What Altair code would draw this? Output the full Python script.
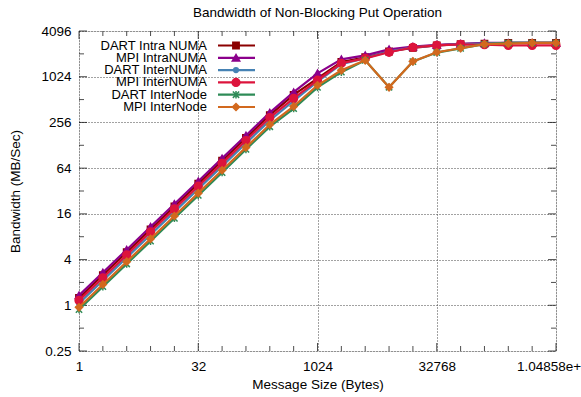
import altair as alt
import pandas as pd

# ---- data ----
exponents = list(range(0, 21))
msg_sizes = [2 ** e for e in exponents]

series_names = ["DART Intra NUMA", "MPI IntraNUMA", "DART InterNUMA",
                "MPI InterNUMA", "DART InterNode", "MPI InterNode"]

dart_intra = [1.25, 2.5, 5, 10, 20, 40, 80, 160, 320, 590, 975, 1600, 1850,
              2200, 2450, 2650, 2750, 2800, 2850, 2850, 2850]
mpi_intra = [1.35, 2.7, 5.4, 10.8, 21.6, 43, 86, 172, 345, 640, 1135, 1735,
             1960, 2350, 2550, 2700, 2780, 2850, 2850, 2850, 2850]
dart_inter = [1.06, 2.12, 4.24, 8.5, 17, 34, 68, 136, 272, 490, 880, 1500,
              1800, 2200, 2500, 2650, 2750, 2800, 2850, 2850, 2850]
mpi_inter = [1.16, 2.3, 4.6, 9.3, 18.6, 37, 74, 148, 297, 530, 920, 1540,
             1785, 2150, 2500, 2650, 2730, 2700, 2650, 2650, 2650]
dart_node = [0.88, 1.76, 3.5, 7, 14, 28, 56, 113, 225, 390, 740, 1175, 1685,
             745, 1620, 2130, 2420, 2750, 2850, 2850, 2850]
mpi_node = [0.94, 1.88, 3.75, 7.5, 15, 30, 60, 120, 240, 416, 790, 1243, 1685,
            743, 1630, 2150, 2430, 2750, 2800, 2850, 2850]

series_values = [dart_intra, mpi_intra, dart_inter, mpi_inter, dart_node, mpi_node]

x_tick_labels = [1, 32, 1024, 32768, 1048576]
y_tick_labels = [0.25, 1, 4, 16, 64, 256, 1024, 4096]
x_tick_exps = list(range(0, 21))
y_tick_exps = list(range(-2, 13))

# ---- styles ----
colors = ["#8b0000", "#8b008b", "#4682b4", "#dc143c", "#2e8b57", "#d2691e"]
shapes = ["square", "triangle-up", "circle", "circle",
          "M-1,-1L1,1M1,-1L-1,1M0,-1.2L0,1.2", "diamond"]
sizes = [40, 55, 22, 60, 40, 50]

W, H = 477, 320
FONT = "Liberation Sans"
FS = 13.5

rows = []
for name, vals in zip(series_names, series_values):
    for s, v in zip(msg_sizes, vals):
        rows.append({"series": name, "size": s, "bw": v})
df = pd.DataFrame(rows)

xscale = alt.Scale(type="log", base=2, domain=[1, 1048576], nice=False)
yscale = alt.Scale(type="log", base=2, domain=[0.25, 4096], nice=False)

xaxis = alt.Axis(values=x_tick_labels, title="Message Size (Bytes)",
                 labelExpr="datum.value >= 1000000 ? '1.04858e+06' : format(datum.value, 'd')",
                 grid=True, gridDash=[1, 2], gridColor="#444", gridWidth=1,
                 ticks=False, domain=False, labelOverlap=False, labelBound=False,
                 labelFlush=False, labelPadding=8, titlePadding=5,
                 labelFont=FONT, labelFontSize=FS, titleFont=FONT, titleFontSize=FS,
                 titleFontWeight="normal", labelColor="black", titleColor="black")
yaxis = alt.Axis(values=y_tick_labels, title="Bandwidth (MB/Sec)", format="~g",
                 grid=True, gridDash=[1, 2], gridColor="#444", gridWidth=1,
                 ticks=False, domain=False, labelPadding=8, titlePadding=18,
                 labelFont=FONT, labelFontSize=FS, titleFont=FONT, titleFontSize=FS,
                 titleFontWeight="normal", labelColor="black", titleColor="black")

layers = []
# axes / grid carrier layer
layers.append(
    alt.Chart(df).mark_point(opacity=0).encode(
        x=alt.X("size:Q", scale=xscale, axis=xaxis),
        y=alt.Y("bw:Q", scale=yscale, axis=yaxis),
    )
)

# inner ticks (major longer, minor shorter)
xt = pd.DataFrame({"t": [2 ** e for e in x_tick_exps],
                   "major": [e % 5 == 0 for e in x_tick_exps]})
yt = pd.DataFrame({"t": [2.0 ** e for e in y_tick_exps],
                   "major": [e % 2 == 0 for e in y_tick_exps]})
for major, ln in [(True, 8), (False, 5)]:
    xs = xt[xt["major"] == major]
    ys = yt[yt["major"] == major]
    layers.append(alt.Chart(xs).mark_tick(color="black", orient="vertical", thickness=1, size=ln).encode(
        x=alt.X("t:Q", scale=xscale), y=alt.value(H - ln / 2)))
    layers.append(alt.Chart(xs).mark_tick(color="black", orient="vertical", thickness=1, size=ln).encode(
        x=alt.X("t:Q", scale=xscale), y=alt.value(ln / 2)))
    layers.append(alt.Chart(ys).mark_tick(color="black", orient="horizontal", thickness=1, size=ln).encode(
        y=alt.Y("t:Q", scale=yscale), x=alt.value(ln / 2)))
    layers.append(alt.Chart(ys).mark_tick(color="black", orient="horizontal", thickness=1, size=ln).encode(
        y=alt.Y("t:Q", scale=yscale), x=alt.value(W - ln / 2)))

# data series
for name, c, sh, sz in zip(series_names, colors, shapes, sizes):
    base = alt.Chart(df).transform_filter(alt.datum.series == name)
    layers.append(base.mark_line(color=c, strokeWidth=2.2).encode(
        x=alt.X("size:Q", scale=xscale), y=alt.Y("bw:Q", scale=yscale)))
    layers.append(base.mark_point(color=c, fill=c, stroke=c, filled=True, shape=sh,
                                  size=sz, strokeWidth=1.5, opacity=1).encode(
        x=alt.X("size:Q", scale=xscale), y=alt.Y("bw:Q", scale=yscale)))

# manual legend (gnuplot style: label then sample)
one = pd.DataFrame({"a": [0]})
for i, (name, c, sh, sz) in enumerate(zip(series_names, colors, shapes, sizes)):
    ly = 14.5 + 12.3 * i
    layers.append(alt.Chart(one).mark_text(text=name, align="right", baseline="middle",
                                           font=FONT, fontSize=13, color="black").encode(
        x=alt.value(128), y=alt.value(ly)))
    layers.append(alt.Chart(one).mark_rule(color=c, strokeWidth=2.2).encode(
        x=alt.value(139), x2=alt.value(176), y=alt.value(ly)))
    layers.append(alt.Chart(one).mark_point(color=c, fill=c, stroke=c, filled=True, shape=sh,
                                            size=sz, strokeWidth=1.5, opacity=1).encode(
        x=alt.value(157), y=alt.value(ly)))

chart = alt.layer(*layers).properties(
    width=W, height=H,
    title=alt.TitleParams("Bandwidth of Non-Blocking Put Operation", font=FONT,
                          fontSize=FS, fontWeight="normal", anchor="middle", offset=5,
                          color="black"),
    autosize=alt.AutoSizeParams(type="none"),
    padding={"left": 79, "top": 31, "right": 25, "bottom": 46},
).configure_view(stroke="black", strokeWidth=1).configure(background="white")

chart.save("out.html", embed_options={"renderer": "svg", "actions": False})
